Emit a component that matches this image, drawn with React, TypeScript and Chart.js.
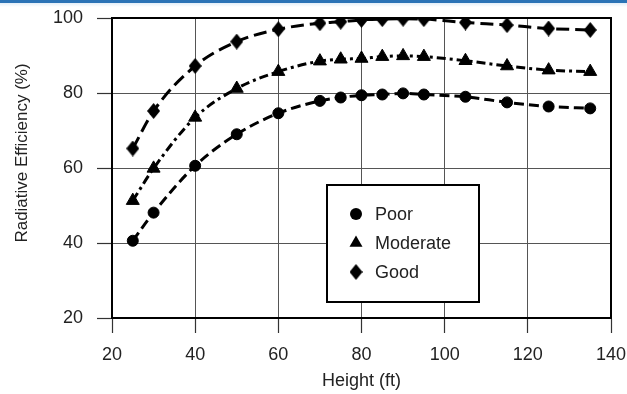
import React, { useEffect, useRef } from 'react';
import { Chart, registerables } from 'chart.js';

Chart.register(...registerables);

const heights = [25, 30, 40, 50, 60, 70, 75, 80, 85, 90, 95, 105, 115, 125, 135];
const poor = [40.6, 48.1, 60.6, 69.0, 74.6, 77.9, 78.8, 79.4, 79.6, 79.9, 79.6, 79.0, 77.5, 76.4, 75.9];
const moderate = [51.3, 59.9, 73.5, 81.2, 85.7, 88.5, 89.0, 89.2, 89.7, 89.9, 89.7, 88.6, 87.2, 86.1, 85.7];
const good = [65.2, 75.2, 87.2, 93.7, 97.0, 98.6, 99.0, 99.5, 99.7, 99.8, 99.7, 98.8, 98.1, 97.2, 96.8];
const seriesNames = ['Poor', 'Moderate', 'Good'];
const xAxisTitle = 'Height (ft)';
const yAxisTitle = 'Radiative Efficiency (%)';
const xMin = 20, xMax = 140, xStep = 20;
const yMin = 20, yMax = 100, yStep = 20;

const FONT = "'Liberation Sans', Arial, sans-serif";

function makeDiamond(w: number, h: number): HTMLCanvasElement {
  const c = document.createElement('canvas');
  c.width = w;
  c.height = h;
  const ctx = c.getContext('2d')!;
  ctx.fillStyle = '#000';
  ctx.beginPath();
  ctx.moveTo(w / 2, 0);
  ctx.lineTo(w, h / 2);
  ctx.lineTo(w / 2, h);
  ctx.lineTo(0, h / 2);
  ctx.closePath();
  ctx.fill();
  return c;
}

export default function App() {
  const ref = useRef<HTMLCanvasElement | null>(null);

  useEffect(() => {
    document.body.style.margin = '0';
    const canvas = ref.current!;
    const diamond = makeDiamond(13, 16);

    const frame = {
      id: 'frame',
      beforeDatasetsDraw(chart: any) {
        const { ctx, chartArea: a } = chart;
        ctx.save();
        ctx.strokeStyle = '#000';
        ctx.lineWidth = 2;
        ctx.strokeRect(a.left, a.top, a.right - a.left, a.bottom - a.top);
        ctx.restore();
      },
      afterDraw(chart: any) {
        const { ctx, chartArea: a } = chart;
        ctx.save();
        ctx.fillStyle = '#222';
        ctx.font = `17px ${FONT}`;
        ctx.translate(22, 153);
        ctx.rotate(-Math.PI / 2);
        ctx.textAlign = 'center';
        ctx.textBaseline = 'middle';
        ctx.fillText(yAxisTitle, 0, 0);
        ctx.restore();

        ctx.save();
        const lx = a.left + 215, ly = a.top + 167, lw = 152, lh = 117;
        ctx.fillStyle = '#fff';
        ctx.fillRect(lx, ly, lw, lh);
        ctx.strokeStyle = '#000';
        ctx.lineWidth = 2;
        ctx.strokeRect(lx, ly, lw, lh);
        ctx.font = `18px ${FONT}`;
        ctx.textAlign = 'left';
        ctx.textBaseline = 'middle';
        seriesNames.forEach((name, i) => {
          const cy = ly + 29 + i * 29;
          const cx = lx + 29;
          ctx.fillStyle = '#000';
          ctx.beginPath();
          if (i === 0) {
            ctx.arc(cx, cy, 6, 0, Math.PI * 2);
            ctx.fill();
          } else if (i === 1) {
            const r = 7.5;
            ctx.moveTo(cx, cy - r);
            ctx.lineTo(cx + r * 0.866, cy + r * 0.5);
            ctx.lineTo(cx - r * 0.866, cy + r * 0.5);
            ctx.closePath();
            ctx.fill();
          } else {
            ctx.drawImage(diamond, cx - 6.5, cy - 8);
          }
          ctx.fillStyle = '#222';
          ctx.fillText(name, lx + 48, cy + 1);
        });
        ctx.restore();
      },
    };

    const common = {
      borderColor: '#000',
      backgroundColor: '#000',
      pointBackgroundColor: '#000',
      pointBorderColor: '#000',
      pointBorderWidth: 1,
      borderWidth: 3,
      cubicInterpolationMode: 'monotone' as const,
      fill: false,
    };

    const chart = new Chart(canvas, {
      type: 'line',
      data: {
        datasets: [
          {
            ...common,
            label: seriesNames[0],
            data: heights.map((x, i) => ({ x, y: poor[i] })),
            borderDash: [10, 5],
            pointStyle: 'circle',
            pointRadius: 5.5,
          },
          {
            ...common,
            label: seriesNames[1],
            data: heights.map((x, i) => ({ x, y: moderate[i] })),
            borderDash: [9, 4, 3, 4],
            pointStyle: 'triangle',
            pointRadius: 7.5,
          },
          {
            ...common,
            label: seriesNames[2],
            data: heights.map((x, i) => ({ x, y: good[i] })),
            borderDash: [13, 6],
            pointStyle: diamond as any,
            pointRadius: 7,
          },
        ],
      },
      options: {
        animation: false,
        responsive: false,
        maintainAspectRatio: false,
        layout: { padding: { top: 18, right: 16, left: 0, bottom: 0 } },
        plugins: {
          legend: { display: false },
          tooltip: { enabled: false },
          title: { display: false },
        },
        scales: {
          x: {
            type: 'linear',
            min: xMin,
            max: xMax,
            ticks: {
              stepSize: xStep,
              color: '#222',
              font: { family: FONT, size: 18 },
              padding: 11,
              maxRotation: 0,
            },
            grid: {
              color: '#555',
              lineWidth: 1,
              tickLength: 15,
              tickColor: '#333',
              tickWidth: 1.2,
            },
            border: { display: true, color: '#000', width: 2 },
            title: {
              display: true,
              text: xAxisTitle,
              color: '#222',
              font: { family: FONT, size: 18 },
              padding: { top: 0, bottom: 2 },
            },
            afterFit(scale: any) {
              scale.height = 76;
              scale.paddingLeft = 0;
              scale.paddingRight = 0;
              scale.paddingTop = 0;
              scale.paddingBottom = 0;
            },
          },
          y: {
            type: 'linear',
            min: yMin,
            max: yMax,
            ticks: {
              stepSize: yStep,
              color: '#222',
              font: { family: FONT, size: 18 },
              padding: 14,
            },
            grid: {
              color: '#555',
              lineWidth: 1,
              tickLength: 15,
              tickColor: '#333',
              tickWidth: 1.2,
            },
            border: { display: true, color: '#000', width: 2 },
            afterFit(scale: any) {
              scale.width = 112;
              scale.paddingLeft = 0;
              scale.paddingRight = 0;
              scale.paddingTop = 0;
              scale.paddingBottom = 0;
            },
          },
        },
      },
      plugins: [frame],
    });

    return () => chart.destroy();
  }, []);

  return (
    <div style={{ position: 'relative', width: 627, height: 394, background: '#fff', overflow: 'hidden' }}>
      <div style={{ position: 'absolute', left: 0, top: 0, width: 627, height: 3, background: '#2b73b6' }} />
      <div style={{ position: 'absolute', left: 0, top: 3, width: 627, height: 4, background: 'linear-gradient(#e3eef8, #ffffff)' }} />
      <canvas ref={ref} width={627} height={394} style={{ position: 'absolute', left: 0, top: 0, width: 627, height: 394 }} />
    </div>
  );
}
